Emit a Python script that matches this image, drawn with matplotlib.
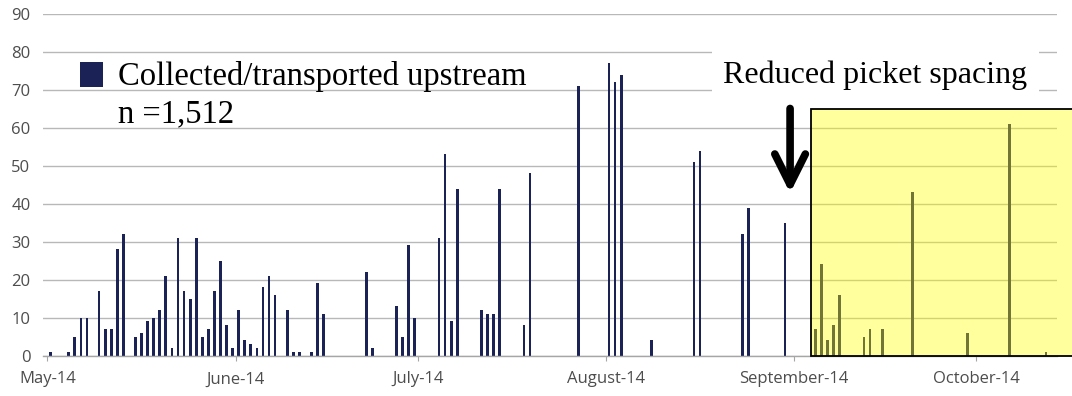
import matplotlib
matplotlib.use("Agg")
import matplotlib.pyplot as plt
import matplotlib.dates as mdates
import matplotlib.patches as mpatches
import pandas as pd

# Daily count of fish collected and transported upstream, 2014 season
dates = [
    "2014-05-01", "2014-05-04", "2014-05-05", "2014-05-06", "2014-05-07",
    "2014-05-09", "2014-05-10", "2014-05-11", "2014-05-12", "2014-05-13",
    "2014-05-15", "2014-05-16", "2014-05-17", "2014-05-18", "2014-05-19",
    "2014-05-20", "2014-05-21", "2014-05-22", "2014-05-23", "2014-05-24",
    "2014-05-25", "2014-05-26", "2014-05-27", "2014-05-28", "2014-05-29",
    "2014-05-30", "2014-05-31",
    "2014-06-01", "2014-06-02", "2014-06-03", "2014-06-04", "2014-06-05",
    "2014-06-06", "2014-06-07", "2014-06-09", "2014-06-10", "2014-06-11",
    "2014-06-13", "2014-06-14", "2014-06-15", "2014-06-22", "2014-06-23",
    "2014-06-27", "2014-06-28", "2014-06-29", "2014-06-30",
    "2014-07-04", "2014-07-05", "2014-07-06", "2014-07-07", "2014-07-11",
    "2014-07-12", "2014-07-13", "2014-07-14", "2014-07-18", "2014-07-19",
    "2014-07-27",
    "2014-08-01", "2014-08-02", "2014-08-03", "2014-08-08", "2014-08-15",
    "2014-08-16", "2014-08-23", "2014-08-24", "2014-08-30",
    "2014-09-04", "2014-09-05", "2014-09-06", "2014-09-07", "2014-09-08",
    "2014-09-12", "2014-09-13", "2014-09-15", "2014-09-20", "2014-09-29",
    "2014-10-06", "2014-10-12",
]
counts = [
    1, 1, 5, 10, 10,
    17, 7, 7, 28, 32,
    5, 6, 9, 10, 12,
    21, 2, 31, 17, 15,
    31, 5, 7, 17, 25,
    8, 2,
    12, 4, 3, 2, 18,
    21, 16, 12, 1, 1,
    1, 19, 11, 22, 2,
    13, 5, 29, 10,
    31, 53, 9, 44, 12,
    11, 11, 44, 8, 48,
    71,
    77, 72, 74, 4, 51,
    54, 32, 39, 35,
    7, 24, 4, 8, 16,
    5, 7, 7, 43, 6,
    61, 1,
]
month_ticks = ["2014-05-01", "2014-06-01", "2014-07-01", "2014-08-01",
               "2014-09-01", "2014-10-01"]

series_label = "Collected/transported upstream"
spacing_label = "Reduced picket spacing"
spacing_start = "2014-09-03 17:00"

navy = "#1b2256"
grid_gray = "#b8b8b8"
tick_gray = "#4d4d4d"

W, H = 1072, 396
DPI = 100


def day(s):
  return mdates.date2num(pd.Timestamp(s))


def create_plot():
  fig = plt.figure(figsize=(W / DPI, H / DPI), dpi=DPI)
  ax = fig.add_axes((43 / W, 40.5 / H, 1014 / W, 341.5 / H))

  # bars sit at noon so each one is centred on its day
  x = [day(d) + 0.5 for d in dates]
  ax.bar(x, counts, width=0.45, color=navy, zorder=2)

  ax.set_ylim(0, 90)
  ax.set_xlim(day("2014-05-01") - 0.74, day("2014-10-14") + 0.3)
  ax.set_yticks(range(0, 91, 10))
  ax.set_xticks([day(d) for d in month_ticks])
  ax.xaxis.set_major_formatter(mdates.DateFormatter("%B-%y"))

  ax.set_axisbelow(True)
  ax.grid(axis="y", color=grid_gray, linewidth=1.0)
  for side in ("top", "right", "left"):
    ax.spines[side].set_visible(False)
  ax.spines["bottom"].set_color("#a6a6a6")
  ax.spines["bottom"].set_linewidth(1.0)

  ax.tick_params(axis="y", length=0, pad=9, labelsize=12, labelcolor=tick_gray)
  ax.tick_params(axis="x", length=3.5, color="#a6a6a6", pad=8, labelsize=12,
                 labelcolor=tick_gray)
  for lab in ax.get_xticklabels() + ax.get_yticklabels():
    lab.set_fontfamily("Open Sans")

  # shaded period after the picket spacing was reduced
  x0 = day(spacing_start)
  shade = mpatches.Rectangle((x0, 0), 60, 65, facecolor=(1.0, 1.0, 0.0, 0.38),
                             edgecolor="black", linewidth=1.3, zorder=3,
                             clip_on=False)
  ax.add_patch(shade)

  ax.text(day("2014-09-14") + 0.4, 71.7, spacing_label, ha="center",
          va="baseline", fontsize=23, family="Liberation Serif", zorder=4,
          bbox=dict(facecolor="white", edgecolor="none", pad=8))

  ax.annotate("", xy=(day("2014-08-31") + 0.33, 42.8),
              xytext=(day("2014-08-31") + 0.33, 65.1),
              arrowprops=dict(arrowstyle="->, head_length=1.1, head_width=0.55",
                              lw=5.5, color="black", mutation_scale=20,
                              shrinkA=0, shrinkB=0))

  # legend drawn by hand: swatch, series name and season total
  fig.add_artist(mpatches.Rectangle((80 / W, (H - 87) / H), 23 / W, 25 / H,
                                    transform=fig.transFigure,
                                    facecolor=navy, edgecolor="none"))
  fig.text(118 / W, (H - 85) / H, series_label, fontsize=23.5,
           family="Liberation Serif", va="baseline")
  fig.text(118 / W, (H - 122) / H, "n ={:,}".format(sum(counts)), fontsize=23.5,
           family="Liberation Serif", va="baseline")
  return fig


fig = create_plot()
fig.savefig("out.png", dpi=DPI)
